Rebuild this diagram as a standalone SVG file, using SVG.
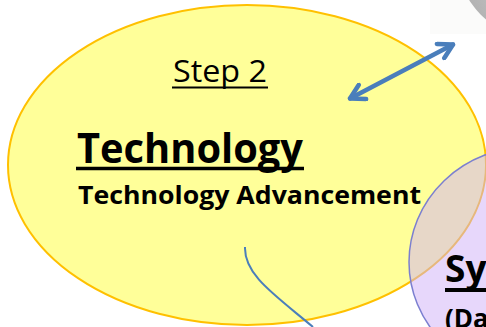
<svg xmlns="http://www.w3.org/2000/svg" width="486" height="327" viewBox="0 0 486 327">
  <defs>
    <radialGradient id="grey" cx="0.35" cy="0.65" r="0.7">
      <stop offset="0" stop-color="#c4c4c4"/>
      <stop offset="1" stop-color="#9c9c9c"/>
    </radialGradient>
    <marker id="chev" viewBox="0 0 20 20" refX="17" refY="10" markerWidth="20" markerHeight="20" markerUnits="userSpaceOnUse" orient="auto-start-reverse">
      <path d="M3,2 L17,10 L3,18" fill="none" stroke="#4a7ebb" stroke-width="4.5" stroke-linecap="round" stroke-linejoin="round"/>
    </marker>
  </defs>
  <style>
    .t { font-family: "Open Sans", "Liberation Sans", sans-serif; fill: #000; }
    .b { font-weight: bold; }
    .ul { stroke: #000; }
    .conn { fill: none; stroke: #4a7ebb; }
  </style>
  <rect width="486" height="327" fill="#ffffff"/>
  <g id="grey-node">
    <rect x="430" y="0" width="56" height="34" fill="#fbfbfa"/>
    <circle cx="535" cy="-40" r="77" fill="url(#grey)"/>
  </g>
  <g id="technology">
    <ellipse cx="247" cy="165" rx="239" ry="160" fill="#ffff99" stroke="#ffc000" stroke-width="2"/>
    <text class="t" x="173" y="82" font-size="31" textLength="94" lengthAdjust="spacingAndGlyphs">Step 2</text>
    <line class="ul" x1="172" y1="87.5" x2="268" y2="87.5" stroke-width="2"/>
    <text class="t b" x="77" y="163" font-size="41" textLength="226" lengthAdjust="spacingAndGlyphs">Technology</text>
    <line class="ul" x1="76" y1="168.5" x2="304" y2="168.5" stroke-width="3.5"/>
    <text class="t b" x="78" y="204" font-size="25" textLength="343" lengthAdjust="spacingAndGlyphs">Technology Advancement</text>
  </g>
  <g id="system">
    <ellipse cx="529" cy="262" rx="120" ry="115" fill="#d0b0f8" fill-opacity="0.5" stroke="#7b7fd0" stroke-width="1.5"/>
    <text class="t b" x="445" y="282" font-size="37">Sy</text>
    <line class="ul" x1="445" y1="290" x2="486" y2="290" stroke-width="4"/>
    <text class="t b" x="445" y="328" font-size="26">(Da</text>
  </g>
  <g id="connectors">
    <line class="conn" x1="350" y1="98.5" x2="453" y2="44.5" stroke-width="4.5" stroke-linecap="round" marker-start="url(#chev)" marker-end="url(#chev)"/>
    <path class="conn" d="M245,247 C244,275 275,295 313,327" stroke-width="2"/>
  </g>
</svg>
